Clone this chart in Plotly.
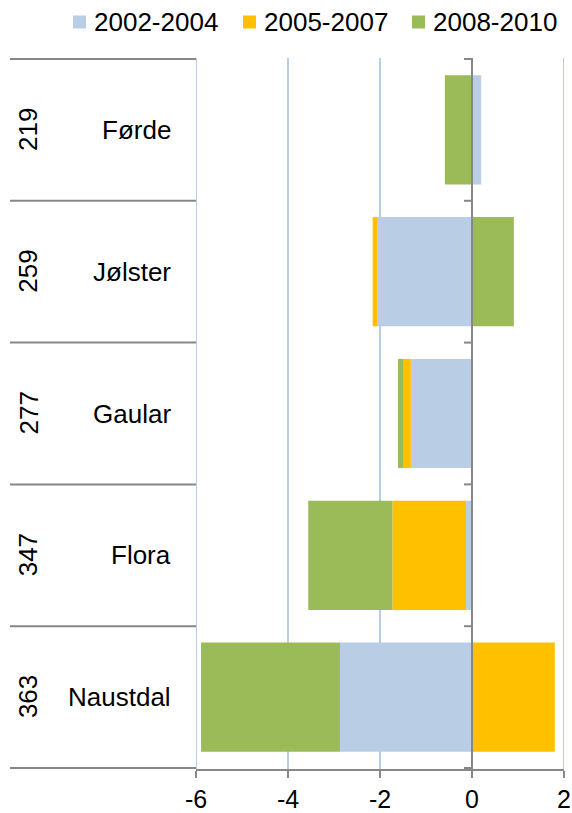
import plotly.graph_objects as go

# Municipalities (top to bottom) and the number shown beside each
kommuner = ["Førde", "Jølster", "Gaular", "Flora", "Naustdal"]
koder = ["219", "259", "277", "347", "363"]

# Period values per municipality
periods = ["2002-2004", "2005-2007", "2008-2010"]
v_2002_2004 = [0.20, -2.05, -1.33, -0.13, -2.87]
v_2005_2007 = [0.00, -0.11, -0.17, -1.60, 1.80]
v_2008_2010 = [-0.59, 0.91, -0.11, -1.83, -3.02]
colors = ["#B9CDE5", "#FFC000", "#9BBB59"]

x_ticks = [-6, -4, -2, 0, 2]

FONT = "Liberation Sans, Arial, sans-serif"
AXIS_GREY = "#878787"
GRID_BLUE = "#B9CDE5"

fig = go.Figure()
for name, vals, col in zip(periods, [v_2002_2004, v_2005_2007, v_2008_2010], colors):
    fig.add_trace(go.Bar(
        y=kommuner, x=vals, name=name, orientation="h",
        marker=dict(color=col, line=dict(width=0)),
    ))

W, H = 572, 813
ml, mr, mt, mb = 196, 8, 58, 44
plot_w = W - ml - mr
plot_h = H - mt - mb


def px_x(px):
    return (px - ml) / plot_w


def px_y(py):
    return (H - mb - py) / plot_h


shapes = []
# vertical gridlines (zero gets its own darker axis line)
for t in x_ticks:
    if t == 0:
        continue
    shapes.append(dict(type="line", xref="x", yref="paper", x0=t, x1=t, y0=0, y1=1,
                       line=dict(color=GRID_BLUE, width=2), layer="below"))

# category divider lines across the label column
left_px = 10
for k in range(len(kommuner) + 1):
    yb = k - 0.5
    shapes.append(dict(type="line", xref="paper", yref="y",
                       x0=px_x(left_px), x1=0, y0=yb, y1=yb,
                       line=dict(color=AXIS_GREY, width=2), layer="above"))
    # small tick marks on the zero axis at each divider
    shapes.append(dict(type="line", xref="x", yref="y", xsizemode="pixel", xanchor=0,
                       x0=-8, x1=0, y0=yb, y1=yb,
                       line=dict(color=AXIS_GREY, width=2), layer="above"))
# vertical axis at zero, drawn above the bars
shapes.append(dict(type="line", xref="x", yref="paper", x0=0, x1=0, y0=0, y1=1,
                   line=dict(color=AXIS_GREY, width=2), layer="above"))

annotations = []
for name, code in zip(kommuner, koder):
    annotations.append(dict(xref="paper", yref="y", x=0, y=name, text=name,
                            showarrow=False, xanchor="right", yanchor="middle",
                            xshift=-23, font=dict(family=FONT, size=26, color="black")))
    annotations.append(dict(xref="paper", yref="y", x=0, y=name, text=code,
                            showarrow=False, xanchor="center", yanchor="middle",
                            textangle=-90, xshift=-168,
                            font=dict(family=FONT, size=26, color="black")))

# legend row: colour square followed by the period label
legend_left = [73, 243, 412]
legend_cy = 22
box = 13
for lx, name, col in zip(legend_left, periods, colors):
    shapes.append(dict(type="rect", xref="paper", yref="paper",
                       x0=px_x(lx), x1=px_x(lx + box),
                       y0=px_y(legend_cy + box / 2), y1=px_y(legend_cy - box / 2),
                       fillcolor=col, line=dict(width=0), layer="above"))
    annotations.append(dict(xref="paper", yref="paper", x=px_x(lx + box + 6),
                            y=px_y(legend_cy), text=name, showarrow=False,
                            xanchor="left", yanchor="middle",
                            font=dict(family=FONT, size=26, color="black")))

fig.update_layout(
    width=W, height=H,
    margin=dict(l=ml, r=mr, t=mt, b=mb, autoexpand=False),
    paper_bgcolor="white", plot_bgcolor="white",
    barmode="relative", bargap=0.23,
    font=dict(family=FONT, size=26, color="black"),
    showlegend=False,
    xaxis=dict(range=[-6, 2], tickvals=x_ticks, ticktext=[str(t) for t in x_ticks],
               showgrid=False, automargin=False,
               zeroline=False, showline=True, linecolor=AXIS_GREY, linewidth=2,
               ticks="outside", ticklen=7, tickwidth=2, tickcolor=AXIS_GREY,
               tickfont=dict(family=FONT, size=25, color="black"), fixedrange=True),
    yaxis=dict(categoryorder="array", categoryarray=kommuner, autorange="reversed",
               showticklabels=False, showgrid=False, zeroline=False, showline=False,
               ticks="", fixedrange=True, automargin=False),
    shapes=shapes,
    annotations=annotations,
)

fig.write_html("out.html")
